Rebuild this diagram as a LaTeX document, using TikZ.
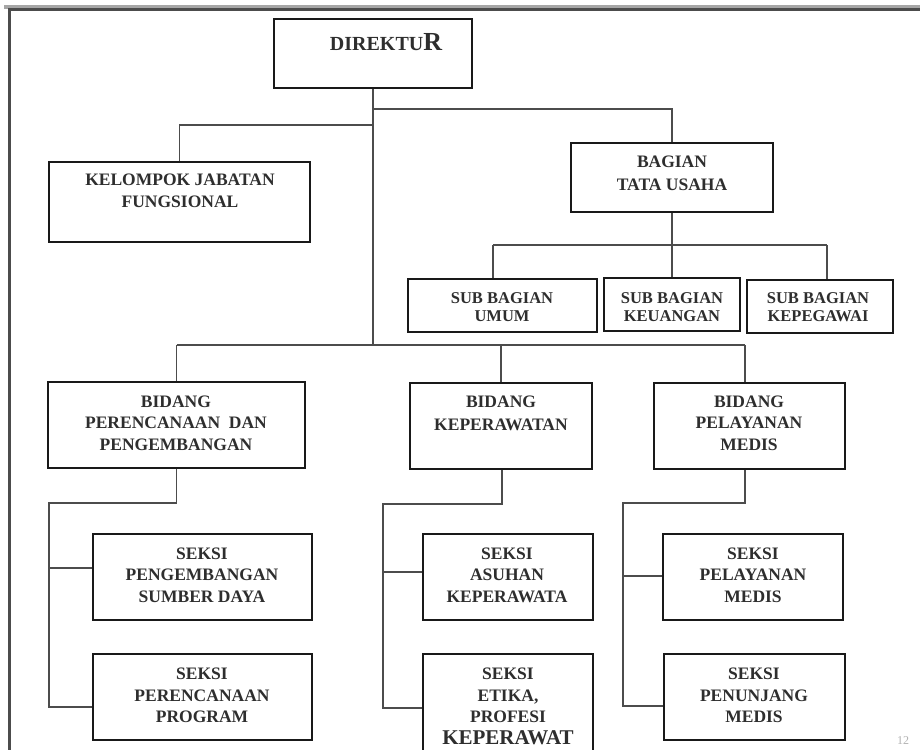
\documentclass[tikz,border=0pt]{standalone}
\usepackage{fontspec}
\setmainfont{Liberation Serif}
\begin{document}
\begin{tikzpicture}[x=1pt,y=-1pt,
  box/.style={draw=black!90,line width=2.6pt,fill=white,inner sep=0pt},
  conn/.style={draw=black!70,line width=1.6pt},
  frameline/.style={draw=black!70,line width=3pt},
  txt/.style={align=center,inner sep=0pt,text=black!82,font=\bfseries\fontsize{17.5}{21.5}\selectfont},
  txtsub/.style={align=center,inner sep=0pt,text=black!82,font=\bfseries\fontsize{16.5}{18.5}\selectfont}]
\useasboundingbox (0,0) rectangle (920,749);
\fill[white] (0,0) rectangle (920,749);
% frame
\coordinate (fTL) at (9,10);
\coordinate (fTR) at (922,10);
\coordinate (fBL) at (9,752);
\draw[frameline,black!35,line width=4pt] (4,7) -- (922,7);
\draw[frameline] (fBL) -- (fTL) -- (fTR);
% boxes
\node[box,minimum width=198,minimum height=69] (dir) at (373,53.5) {};
\node[box,minimum width=261,minimum height=80] (kel) at (179.5,202) {};
\node[box,minimum width=202,minimum height=69] (bag) at (672,177.5) {};
\node[box,minimum width=189,minimum height=53] (sub1) at (502.5,305.5) {};
\node[box,minimum width=136,minimum height=53] (sub2) at (672,304.5) {};
\node[box,minimum width=146,minimum height=53] (sub3) at (820,306.5) {};
\node[box,minimum width=257,minimum height=86] (bid1) at (176.5,425) {};
\node[box,minimum width=182,minimum height=86] (bid2) at (501,426) {};
\node[box,minimum width=191,minimum height=86] (bid3) at (749.5,426) {};
\node[box,minimum width=219,minimum height=86] (s11) at (202.5,577) {};
\node[box,minimum width=219,minimum height=86] (s12) at (202.5,697) {};
\node[box,minimum width=170,minimum height=86] (s21) at (508,577) {};
\node[box,minimum width=170,minimum height=120] (s22) at (508,714) {};
\node[box,minimum width=180,minimum height=86] (s31) at (753,577) {};
\node[box,minimum width=181,minimum height=86] (s32) at (754.5,697) {};
% texts
\node[inner sep=0pt,anchor=base,text=black!82,font=\bfseries] (dirt) at (386,50.5)
  {\fontsize{20}{22}\selectfont DIREKTU\fontsize{26}{28}\selectfont R};
\node[txt] (kelt) at (180,191) {KELOMPOK JABATAN\\FUNGSIONAL};
\node[txt,font=\bfseries\fontsize{17.5}{23}\selectfont] (bagt) at (672,173.5) {BAGIAN\\TATA USAHA};
\node[txtsub] (sub1t) at (502,307) {SUB BAGIAN\\UMUM};
\node[txtsub] (sub2t) at (672,307) {SUB BAGIAN\\KEUANGAN};
\node[txtsub] (sub3t) at (818,307) {SUB BAGIAN\\KEPEGAWAI};
\node[txt] (bid1t) at (176,423) {BIDANG\\PERENCANAAN\ \ DAN\\PENGEMBANGAN};
\node[txt,font=\bfseries\fontsize{17.5}{23}\selectfont] (bid2t) at (501,413.5) {BIDANG\\KEPERAWATAN};
\node[txt] (bid3t) at (749,423) {BIDANG\\PELAYANAN\\MEDIS};
\node[txt] (s11t) at (202,575) {SEKSI\\PENGEMBANGAN\\SUMBER DAYA};
\node[txt] (s12t) at (202,695.5) {SEKSI\\PERENCANAAN\\PROGRAM};
\node[txt] (s21t) at (507,575) {SEKSI\\ASUHAN\\KEPERAWATA};
\node[txt,anchor=north] (s22t) at (508,668) {SEKSI\\ETIKA,\\PROFESI\\{\fontsize{21}{22.5}\selectfont KEPERAWAT}};
\node[txt] (s31t) at (753,575) {SEKSI\\PELAYANAN\\MEDIS};
\node[txt] (s32t) at (754,695.5) {SEKSI\\PENUNJANG\\MEDIS};
\node[inner sep=0pt,text=black!30,font=\fontsize{12}{12}\selectfont] (pg) at (903,741) {12};
% connector coordinates
\coordinate (j1) at (373,109);
\coordinate (j2) at (373,125);
\coordinate (busM) at (373,345);
\coordinate (bL) at (176.5,345);
\coordinate (bR) at (745,345);
\coordinate (sbus) at (672,245);
\coordinate (sL) at (493,245);
\coordinate (sR) at (827,245);
\coordinate (k1) at (49,503);
\coordinate (k1m) at (49,568);
\coordinate (k1e) at (49,707);
\coordinate (k2t) at (502,469);
\coordinate (k2) at (383,504);
\coordinate (k2m) at (383,572);
\coordinate (k2e) at (383,708);
\coordinate (k3) at (623,503);
\coordinate (k3m) at (623,576);
\coordinate (k3e) at (623,706);
% connectors
\draw[conn] (dir.south) -- (busM);
\draw[conn] (j1) -| (bag.north);
\draw[conn] (j2) -| (kel.north);
\draw[conn] (bag.south) -- (sbus);
\draw[conn] (sL) -- (sR);
\draw[conn] (sL) -- (sL |- sub1.north);
\draw[conn] (sbus) -- (sub2.north);
\draw[conn] (sR) -- (sR |- sub3.north);
\draw[conn] (bL) -- (bR);
\draw[conn] (bL) -- (bid1.north);
\draw[conn] (bid2.north |- busM) -- (bid2.north);
\draw[conn] (bR) -- (bR |- bid3.north);
\draw[conn] (bid1.south) |- (k1) -- (k1e) -- (s12.west |- k1e);
\draw[conn] (k1m) -- (s11.west |- k1m);
\draw[conn] (k2t |- bid2.south) |- (k2) -- (k2e) -- (s22.west |- k2e);
\draw[conn] (k2m) -- (s21.west |- k2m);
\draw[conn] (bR |- bid3.south) |- (k3) -- (k3e) -- (s32.west |- k3e);
\draw[conn] (k3m) -- (s31.west |- k3m);
\end{tikzpicture}
\end{document}
